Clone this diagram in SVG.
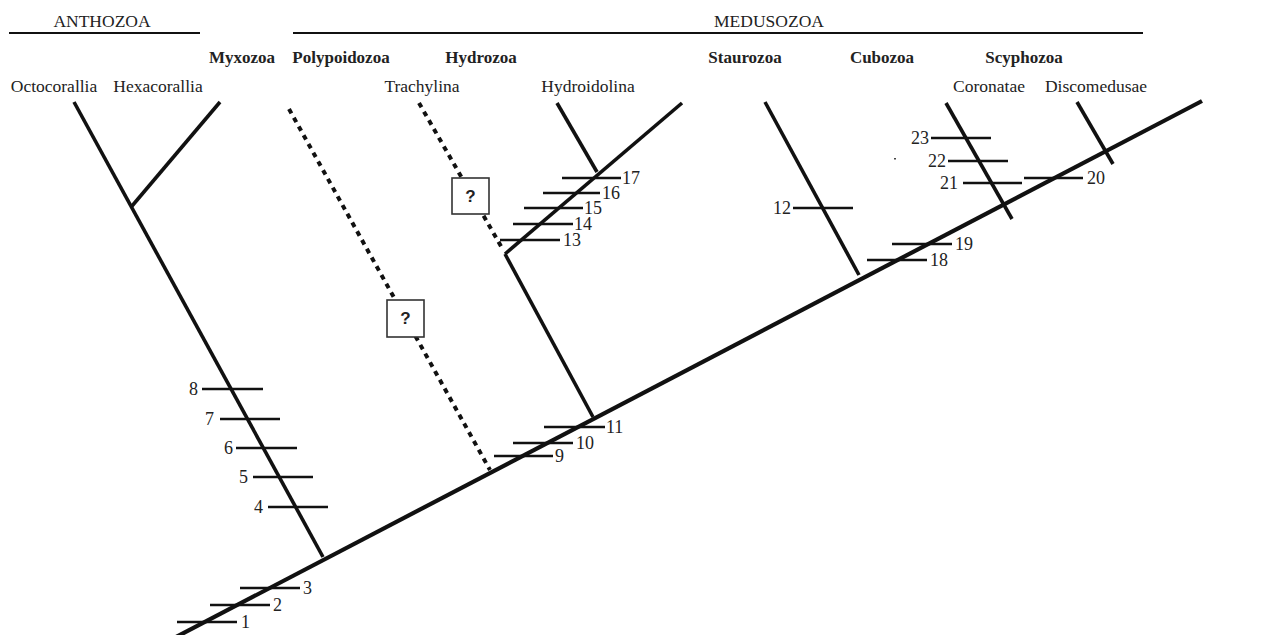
<svg xmlns="http://www.w3.org/2000/svg" width="1288" height="635" viewBox="0 0 1288 635">
<style>
.bg{fill:#fff}
.t{font-family:"Liberation Serif","Times New Roman",serif;fill:#222}
.hd{font-size:17.5px}
.b{font-size:17px;font-weight:bold}
.sub{font-size:17.5px}
.n{font-size:18px}
.trunk{stroke:#111;stroke-width:4.2;fill:none;stroke-linecap:butt}
.br{stroke:#111;stroke-width:3.6;fill:none}
.dot{stroke:#111;stroke-width:4;fill:none;stroke-dasharray:5 5}
.tk{stroke:#111;stroke-width:2.3}
.rule{stroke:#111;stroke-width:2}
.box{fill:#fff;stroke:#333;stroke-width:1.6}
.q{font-family:"Liberation Sans",Arial,sans-serif;font-size:17px;font-weight:bold;fill:#222}
</style>
<rect class="bg" x="0" y="0" width="1288" height="635"/>

<g id="headers">
  <text class="t hd" x="102" y="27" text-anchor="middle">ANTHOZOA</text>
  <line class="rule" x1="9" y1="33" x2="200" y2="33"/>
  <text class="t hd" x="769" y="27" text-anchor="middle">MEDUSOZOA</text>
  <line class="rule" x1="293" y1="33" x2="1143" y2="33"/>
</g>

<g id="connectors">
  <line id="trunk" class="trunk" x1="176" y1="637" x2="1202" y2="101"/>
  <line class="br" x1="74" y1="102" x2="323" y2="557"/>
  <line class="br" x1="220" y1="102" x2="132" y2="206"/>
  <line class="dot" x1="289" y1="109" x2="490" y2="470"/>
  <line class="dot" x1="419" y1="103" x2="502" y2="248"/>
  <line class="br" x1="593" y1="417" x2="505" y2="254"/>
  <line class="br" x1="505" y1="254" x2="682" y2="103"/>
  <line class="br" x1="557" y1="103" x2="597" y2="172"/>
  <line class="br" x1="765" y1="102" x2="859" y2="275"/>
  <line class="br" x1="946" y1="103" x2="1012" y2="219"/>
  <line class="br" x1="1077" y1="102" x2="1113" y2="164"/>
</g>

<g id="labels-taxa">
  <text class="t b" x="242" y="63" text-anchor="middle">Myxozoa</text>
  <text class="t b" x="341" y="63" text-anchor="middle">Polypoidozoa</text>
  <text class="t b" x="481" y="63" text-anchor="middle">Hydrozoa</text>
  <text class="t b" x="745" y="63" text-anchor="middle">Staurozoa</text>
  <text class="t b" x="882" y="63" text-anchor="middle">Cubozoa</text>
  <text class="t b" x="1024" y="63" text-anchor="middle">Scyphozoa</text>
  <text class="t sub" x="54" y="92" text-anchor="middle">Octocorallia</text>
  <text class="t sub" x="158" y="92" text-anchor="middle">Hexacorallia</text>
  <text class="t sub" x="422" y="92" text-anchor="middle">Trachylina</text>
  <text class="t sub" x="588" y="92" text-anchor="middle">Hydroidolina</text>
  <text class="t sub" x="989" y="92" text-anchor="middle">Coronatae</text>
  <text class="t sub" x="1096" y="92" text-anchor="middle">Discomedusae</text>
</g>

<g id="box-polypoidozoa">
  <rect class="box" x="452" y="178" width="37" height="36"/>
  <text class="q" x="470.5" y="202" text-anchor="middle">?</text>
</g>
<g id="box-myxozoa">
  <rect class="box" x="387" y="300" width="37" height="37"/>
  <text class="q" x="405.5" y="324" text-anchor="middle">?</text>
</g>

<g id="ticks">
  <line class="tk" x1="177" y1="622" x2="237" y2="622"/><text class="t n" x="241" y="628">1</text>
  <line class="tk" x1="210" y1="605" x2="270" y2="605"/><text class="t n" x="273" y="611">2</text>
  <line class="tk" x1="240" y1="588" x2="300" y2="588"/><text class="t n" x="303" y="594">3</text>
  <line class="tk" x1="268" y1="507" x2="328" y2="507"/><text class="t n" x="263" y="513" text-anchor="end">4</text>
  <line class="tk" x1="253" y1="477" x2="313" y2="477"/><text class="t n" x="248" y="483" text-anchor="end">5</text>
  <line class="tk" x1="236" y1="448" x2="297" y2="448"/><text class="t n" x="233" y="454" text-anchor="end">6</text>
  <line class="tk" x1="220" y1="419" x2="280" y2="419"/><text class="t n" x="214" y="425" text-anchor="end">7</text>
  <line class="tk" x1="202" y1="389" x2="263" y2="389"/><text class="t n" x="198" y="395" text-anchor="end">8</text>
  <line class="tk" x1="494" y1="456" x2="553" y2="456"/><text class="t n" x="555" y="462">9</text>
  <line class="tk" x1="513" y1="443" x2="573" y2="443"/><text class="t n" x="576" y="449">10</text>
  <line class="tk" x1="544" y1="427" x2="605" y2="427"/><text class="t n" x="606" y="433">11</text>
  <line class="tk" x1="793" y1="208" x2="853" y2="208"/><text class="t n" x="791" y="214" text-anchor="end">12</text>
  <line class="tk" x1="500" y1="240" x2="560" y2="240"/><text class="t n" x="563" y="246">13</text>
  <line class="tk" x1="513" y1="224" x2="573" y2="224"/><text class="t n" x="574" y="230">14</text>
  <line class="tk" x1="524" y1="208" x2="583" y2="208"/><text class="t n" x="584" y="214">15</text>
  <line class="tk" x1="543" y1="193" x2="600" y2="193"/><text class="t n" x="602" y="199">16</text>
  <line class="tk" x1="562" y1="178" x2="621" y2="178"/><text class="t n" x="622" y="184">17</text>
  <line class="tk" x1="867" y1="260" x2="927" y2="260"/><text class="t n" x="930" y="266">18</text>
  <line class="tk" x1="892" y1="244" x2="952" y2="244"/><text class="t n" x="955" y="250">19</text>
  <line class="tk" x1="1024" y1="178" x2="1083" y2="178"/><text class="t n" x="1087" y="184">20</text>
  <line class="tk" x1="963" y1="183" x2="1022" y2="183"/><text class="t n" x="958" y="189" text-anchor="end">21</text>
  <line class="tk" x1="948" y1="161" x2="1008" y2="161"/><text class="t n" x="946" y="167" text-anchor="end">22</text>
  <line class="tk" x1="931" y1="138" x2="991" y2="138"/><text class="t n" x="929" y="144" text-anchor="end">23</text>
  <rect x="894" y="158" width="2" height="1.5" fill="#444"/>
</g>
</svg>
